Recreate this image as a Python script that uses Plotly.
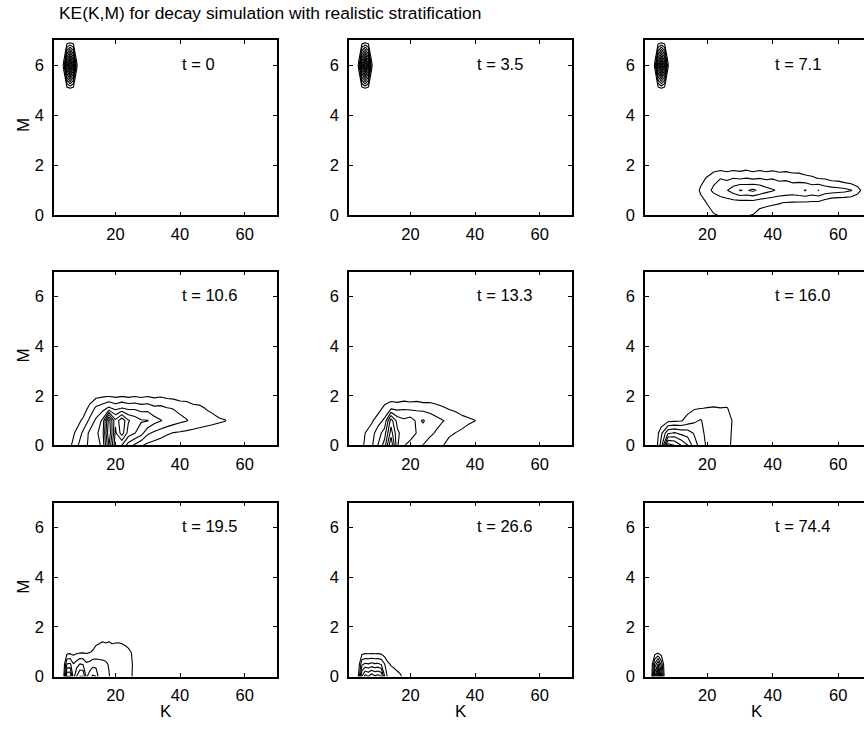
import plotly.graph_objects as go

# ---------------- data (KE in contour-level units; contours at 1, 2, 3, ...) ----------------
panel_labels = ["t = 0", "t = 3.5", "t = 7.1", "t = 10.6", "t = 13.3", "t = 16.0",
                "t = 19.5", "t = 26.6", "t = 74.4"]
x_ticks = [20, 40, 60]
y_ticks = [0, 2, 4, 6]

# high-M blob (M = 6) seen at t = 0, 3.5, 7.1
k_blob = [3, 4, 5, 6, 7, 8, 9]
m_blob = [5, 6, 7]
ke_blob_t0 = [[0, 0, 0, 0, 0, 0, 0],
              [0, 1.2, 7.5, 11.5, 7.5, 1.2, 0],
              [0, 0, 0, 0, 0, 0, 0]]
ke_blob_t35 = [[0, 0, 0, 0, 0, 0, 0],
               [0, 1.2, 7.4, 11.4, 7.4, 1.2, 0],
               [0, 0, 0, 0, 0, 0, 0]]
ke_blob_t71 = [[0, 0, 0, 0, 0, 0, 0],
               [0, 1.15, 7.2, 11.2, 7.3, 1.15, 0],
               [0, 0, 0, 0, 0, 0, 0]]

# low-M band, t = 7.1
k_t71 = [16, 18, 20, 22, 24, 26, 28, 30, 32, 34, 36, 38, 40, 42, 44, 46, 48, 50,
         52, 54, 56, 58, 60, 62, 64, 66, 68, 70]
m_t71 = [0, 0.5, 1, 1.5, 2]
ke_t71 = [
    [0, 0.3, 0.6, 0.95, 1.03, 1.05, 1.02, 1.05, 1.03, 0.97, 0.7, 0.55, 0.5, 0.45, 0.4, 0.4, 0.35, 0.3,
     0.25, 0.2, 0, 0, 0, 0, 0, 0, 0, 0],
    [0.1, 0.6, 1.05, 1.3, 1.4, 1.45, 1.5, 1.5, 1.5, 1.5, 1.27, 1.2, 1.12, 1.05, 0.95, 0.9, 0.88, 0.85,
     0.8, 0.75, 0.4, 0.1, 0, 0, 0, 0, 0, 0],
    [0.3, 1.2, 1.7, 2.2, 2.6, 2.95, 3.5, 4.05, 3.9, 4.2, 3.8, 3.4, 3.1, 2.8, 2.7, 2.6, 2.8, 3.05,
     2.7, 3.03, 2.6, 2.5, 2.4, 2.3, 2.05, 1.4, 0.5, 0],
    [0.1, 0.6, 1.1, 1.7, 1.95, 1.75, 1.95, 1.8, 1.96, 1.75, 1.92, 1.75, 1.9, 1.7, 1.8, 1.6, 1.55, 1.3,
     1.15, 0.9, 0.85, 0.55, 0.5, 0.2, 0.08, 0, 0, 0],
    [0, 0, 0, 0.2, 0.35, 0.2, 0.35, 0.25, 0.4, 0.2, 0.35, 0.2, 0.3, 0.15, 0.2, 0.05, 0.1, 0,
     0, 0, 0, 0, 0, 0, 0, 0, 0, 0],
]

# t = 10.6
k_t106 = [4, 6, 8, 10, 12, 14, 16, 18, 20, 22, 24, 26, 28, 30, 32, 34, 36, 38, 40,
          42, 44, 46, 48, 50, 52, 54, 56, 58, 60]
m_t106 = [0, 0.5, 1, 1.5, 2]
ke_t106 = [
    [0, 0.8, 1.8, 2.6, 3.2, 3.6, 4.2, 8.0, 4.2, 4.0, 2.5, 1.8, 1.1, 0.7, 0.5, 0.3, 0.2, 0.1, 0,
     0, 0, 0, 0, 0, 0, 0, 0, 0, 0],
    [0, 0.6, 1.2, 2.2, 3.2, 3.8, 4.5, 9.0, 4.8, 6.5, 4.6, 4.05, 3.4, 2.2, 1.8, 1.5, 1.15, 0.95, 0.85,
     0.75, 0.65, 0.55, 0.45, 0.3, 0.15, 0, 0, 0, 0],
    [0, 0.1, 0.6, 1.2, 2.2, 3.2, 4.2, 8.5, 5.2, 6.8, 5.1, 4.6, 4.1, 4.05, 3.4, 3.05, 2.8, 2.5, 2.25,
     2.05, 1.8, 1.6, 1.45, 1.35, 1.2, 1.05, 0.4, 0, 0],
    [0, 0, 0.2, 0.4, 1.3, 2.2, 2.6, 3.2, 2.7, 3.05, 2.75, 2.8, 2.55, 2.6, 2.25, 2.3, 2.05, 1.95, 1.75,
     1.65, 1.35, 1.25, 0.95, 0.75, 0.35, 0.15, 0, 0, 0],
    [0, 0, 0, 0, 0.3, 0.7, 0.8, 0.9, 0.75, 0.9, 0.75, 0.9, 0.75, 0.9, 0.75, 0.85, 0.7, 0.65, 0.45,
     0.45, 0.25, 0.25, 0.05, 0.1, 0, 0, 0, 0, 0],
]

# t = 13.3
k_t133 = [4, 6, 8, 10, 12, 14, 16, 18, 20, 22, 24, 26, 28, 30, 32, 34, 36, 38, 40, 42, 44]
m_t133 = [0, 0.5, 1, 1.5, 2]
ke_t133 = [
    [0, 1.3, 1.8, 3.05, 4.5, 8.0, 4.1, 3.05, 2.7, 2.5, 1.95, 1.6, 1.3, 1.05, 0.6, 0.3, 0.1, 0, 0, 0, 0],
    [0, 1.0, 1.6, 2.5, 3.5, 6.5, 4.2, 3.5, 3.4, 2.95, 2.6, 2.2, 1.9, 1.5, 1.2, 0.98, 0.8, 0.5, 0.2, 0, 0],
    [0, 0.2, 0.8, 1.6, 2.2, 5.5, 3.6, 3.2, 3.5, 2.8, 3.1, 2.5, 2.3, 2.05, 1.8, 1.6, 1.4, 1.2, 1.02, 0.3, 0],
    [0, 0, 0.1, 0.5, 1.3, 1.8, 1.7, 1.85, 1.75, 1.8, 1.65, 1.65, 1.4, 1.15, 0.9, 0.75, 0.45, 0.35, 0.1, 0, 0],
    [0, 0, 0, 0, 0.2, 0.3, 0.2, 0.35, 0.25, 0.35, 0.2, 0.25, 0.15, 0.1, 0, 0, 0, 0, 0, 0, 0],
]

# t = 16.0
k_t160 = [4, 6, 8, 10, 12, 14, 16, 18, 20, 22, 24, 26, 28, 30]
m_t160 = [0, 0.5, 1, 1.5, 2]
ke_t160 = [
    [0, 2.5, 7.5, 7.05, 6.05, 5.05, 3.5, 2.6, 1.8, 1.5, 1.4, 1.25, 0.8, 0],
    [0, 1.8, 3.8, 4.1, 3.7, 3.5, 2.9, 2.4, 1.6, 1.4, 1.4, 1.3, 0.85, 0],
    [0, 0.2, 0.7, 0.8, 0.9, 1.4, 1.8, 2.1, 1.5, 1.5, 1.4, 1.35, 0.9, 0],
    [0, 0, 0, 0, 0.1, 0.6, 0.9, 0.97, 1.05, 1.12, 1.03, 1.08, 0.5, 0],
    [0, 0, 0, 0, 0, 0, 0, 0, 0, 0, 0, 0, 0, 0],
]

# t = 19.5
k_t195 = [3, 4, 5, 6, 7, 8, 9, 10, 11, 12, 13, 14, 15, 16, 17, 18, 19, 20, 21, 22, 23, 24, 25, 26, 27]
m_t195 = [0, 0.5, 1, 1.5]
ke_t195 = [
    [0, 0.8, 6.05, 6.05, 2.5, 4.05, 5.05, 5.05, 2.8, 3.5, 4.2, 4.05, 2.5, 2.4, 2.2, 2.1, 1.5, 1.4,
     1.3, 1.3, 1.3, 1.25, 1.1, 0.4, 0],
    [0, 0.3, 3.05, 3.2, 2.05, 2.5, 3.05, 2.9, 2.2, 2.3, 2.6, 2.5, 2.4, 2.3, 2.2, 1.9, 1.5, 1.45,
     1.4, 1.4, 1.4, 1.35, 1.2, 0.4, 0],
    [0, 0, 0.5, 0.6, 0.6, 0.7, 0.75, 0.8, 0.8, 0.9, 1.1, 1.3, 1.35, 1.4, 1.35, 1.4, 1.35, 1.35,
     1.4, 1.35, 1.3, 1.2, 0.95, 0.3, 0],
    [0, 0, 0, 0, 0, 0, 0, 0, 0, 0, 0.3, 0.7, 0.8, 0.9, 0.85, 0.9, 0.8, 0.85,
     0.85, 0.8, 0.7, 0.5, 0.3, 0.1, 0],
]

# t = 26.6
k_t266 = [3, 4, 5, 6, 7, 8, 9, 10, 11, 12, 13, 14, 15, 16, 17, 18, 19]
m_t266 = [0, 0.5, 1]
ke_t266 = [
    [0, 1.2, 5.05, 6.5, 6.05, 6.8, 6.2, 6.5, 6.05, 3.1, 1.8, 1.6, 1.4, 1.3, 1.15, 0.5, 0],
    [0, 0.5, 2.8, 3.2, 3.05, 3.3, 3.1, 3.2, 2.9, 2.05, 1.2, 0.9, 0.8, 0.6, 0.3, 0, 0],
    [0, 0, 0.5, 0.6, 0.6, 0.6, 0.6, 0.6, 0.55, 0.3, 0.1, 0, 0, 0, 0, 0, 0],
]

# t = 74.4
k_t744 = [2, 3, 4, 5, 6, 7, 8]
m_t744 = [0, 0.5, 1]
ke_t744 = [
    [0, 0.5, 6.05, 10.0, 4.5, 0.3, 0],
    [0, 0.3, 3.2, 5.05, 2.6, 0.2, 0],
    [0, 0, 0.3, 0.5, 0.3, 0, 0],
]

title_text = "KE(K,M) for decay simulation with realistic stratification"

# ---------------- figure ----------------
W, H = 864, 731
col_px = [(54, 277), (349, 572), (645, 864)]
row_px = [(41, 218), (275, 451), (509, 685)]
col_ranges = [[1, 70], [1, 70], [1, 67.9]]
FONT = "Liberation Sans, Arial, Helvetica, sans-serif"
FS = 16.5

fig = go.Figure()

def add_contour(i, k, m, z):
    fig.add_trace(go.Contour(
        x=k, y=m, z=z,
        xaxis="x" if i == 1 else f"x{i}",
        yaxis="y" if i == 1 else f"y{i}",
        autocontour=False,
        contours=dict(coloring="lines", start=1, end=12, size=1, showlabels=False),
        line=dict(width=1.1, smoothing=0),
        colorscale=[[0, "black"], [1, "black"]],
        zmin=0, zmax=12,
        showscale=False, hoverinfo="skip",
    ))

add_contour(1, k_blob, m_blob, ke_blob_t0)
add_contour(2, k_blob, m_blob, ke_blob_t35)
add_contour(3, k_blob, m_blob, ke_blob_t71)
add_contour(3, k_t71, m_t71, ke_t71)
add_contour(4, k_t106, m_t106, ke_t106)
add_contour(5, k_t133, m_t133, ke_t133)
add_contour(6, k_t160, m_t160, ke_t160)
add_contour(7, k_t195, m_t195, ke_t195)
add_contour(8, k_t266, m_t266, ke_t266)
add_contour(9, k_t744, m_t744, ke_t744)

layout = dict(
    width=W, height=H,
    margin=dict(l=0, r=0, t=0, b=0),
    paper_bgcolor="white", plot_bgcolor="white",
    showlegend=False,
    font=dict(family=FONT, size=FS, color="black"),
)

annotations = []
for i in range(1, 10):
    r, c = (i - 1) // 3, (i - 1) % 3
    x0, x1 = col_px[c]
    y0, y1 = row_px[r]
    sx = "" if i == 1 else str(i)
    layout["xaxis" + sx] = dict(
        domain=[x0 / W, min(x1 / W, 1.0)], range=col_ranges[c], anchor="y" + sx,
        tickvals=x_ticks, ticks="inside", ticklen=4, tickcolor="black",
        showline=True, linecolor="black", linewidth=1.5, mirror="ticks",
        showgrid=False, zeroline=False, ticklabelstandoff=3,
        tickfont=dict(family=FONT, size=FS, color="black"),
    )
    layout["yaxis" + sx] = dict(
        domain=[1 - y1 / H, 1 - y0 / H], range=[0, 7], anchor="x" + sx,
        tickvals=y_ticks, ticks="inside", ticklen=4, tickcolor="black",
        showline=True, linecolor="black", linewidth=1.5,
        mirror=("ticks" if c < 2 else False),
        showgrid=False, zeroline=False, ticklabelstandoff=5,
        tickfont=dict(family=FONT, size=FS, color="black"),
    )
    annotations.append(dict(
        text=panel_labels[i - 1], x=40, y=6.05, xref="x" + sx, yref="y" + sx,
        xanchor="left", yanchor="middle", showarrow=False,
        font=dict(family=FONT, size=FS, color="black"),
    ))
    if c == 0:
        annotations.append(dict(
            text="M", x=24 / W, y=1 - ((y0 + y1) / 2 - 3) / H, xref="paper", yref="paper",
            xanchor="center", yanchor="middle", textangle=-90, showarrow=False,
            font=dict(family=FONT, size=FS + 0.5, color="black"),
        ))
    if r == 2:
        annotations.append(dict(
            text="K", x=(x0 + (x0 + 223)) / 2 / W, y=1 - 720 / H, xref="paper", yref="paper",
            xanchor="center", yanchor="middle", showarrow=False,
            font=dict(family=FONT, size=FS + 0.5, color="black"),
        ))

annotations.append(dict(
    text=title_text, x=57 / W, y=1 - 13 / H, xref="paper", yref="paper",
    xanchor="left", yanchor="middle", showarrow=False,
    font=dict(family=FONT, size=17.4, color="black"),
))
layout["annotations"] = annotations

fig.update_layout(**layout)
fig.write_html("out.html")
